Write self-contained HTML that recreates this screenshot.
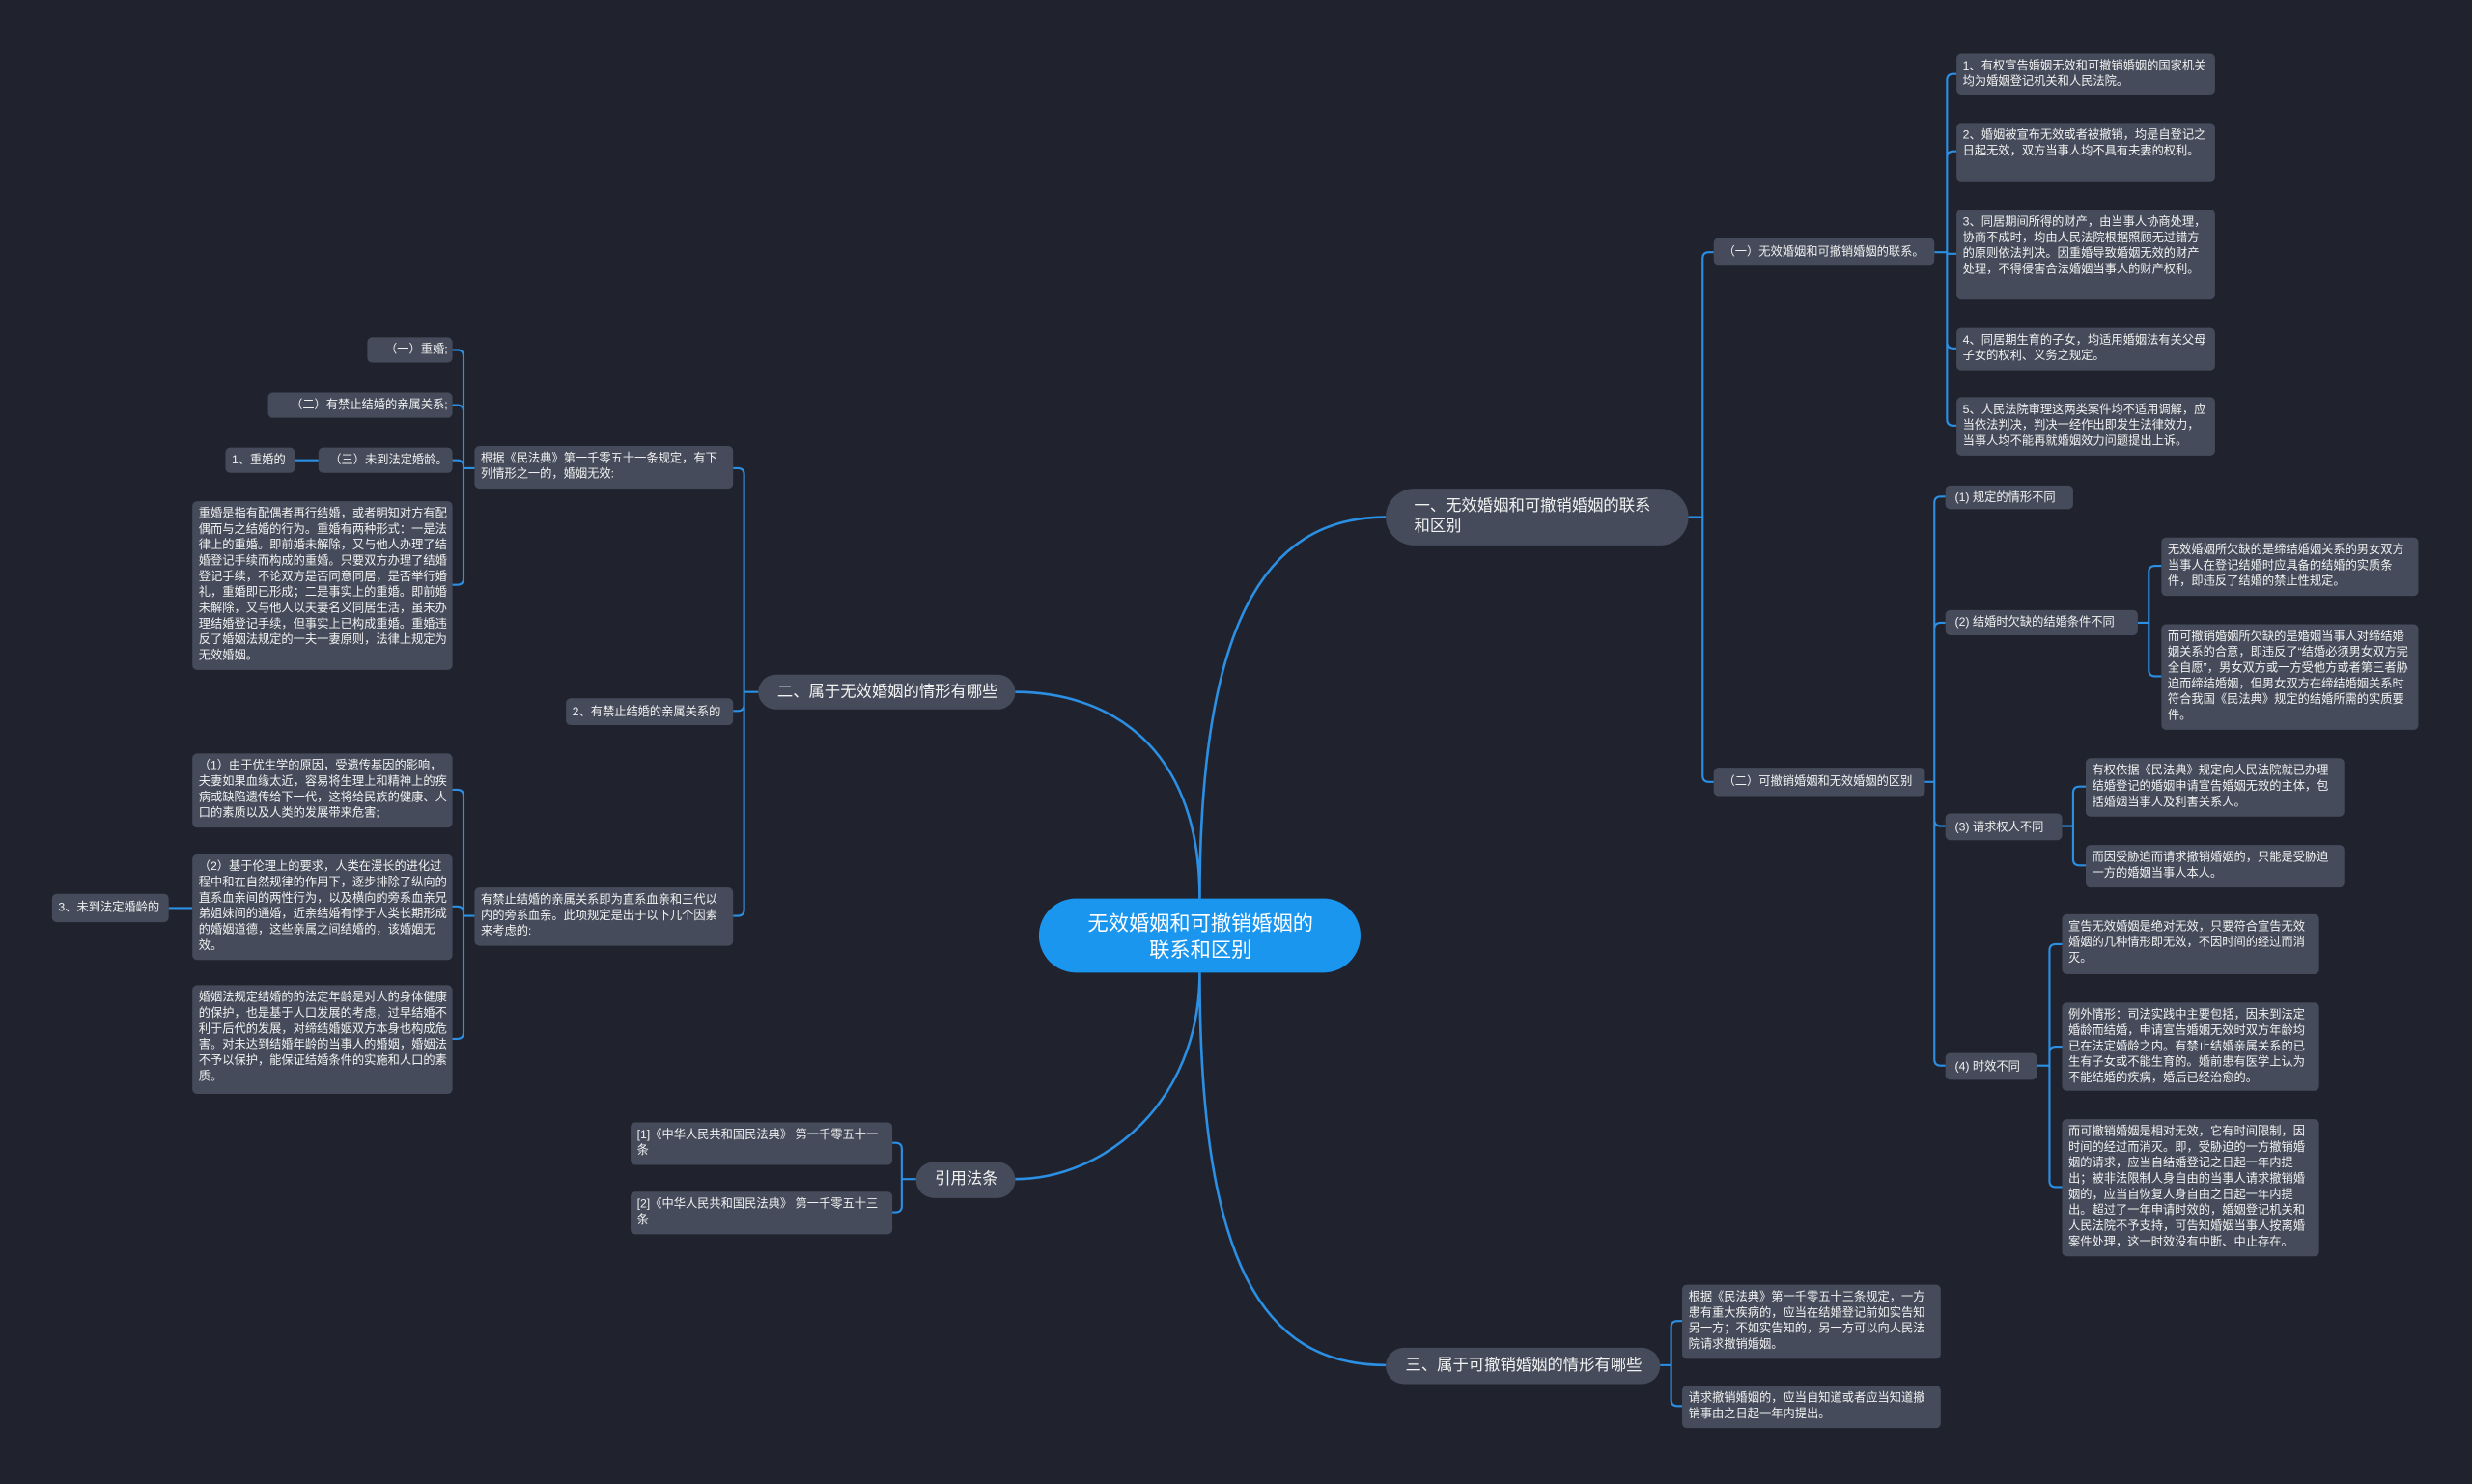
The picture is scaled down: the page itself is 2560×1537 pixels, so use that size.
<!DOCTYPE html>
<html><head><meta charset="utf-8">
<style>
html,body{margin:0;padding:0;background:#20232e;width:2560px;height:1537px;overflow:hidden}
#w{position:absolute;left:0;top:0;width:1568px;height:941px;transform:scale(1.63265);transform-origin:0 0;font-family:"Liberation Sans","Noto Sans CJK SC",sans-serif}
.n{position:absolute;background:#454b5a;color:#f0f0f0;border-radius:3px;font-size:7.5px;line-height:10px;padding:3px 3px 3px 4px;box-sizing:border-box;overflow:hidden;word-break:break-all}
.c{display:flex;align-items:center;white-space:nowrap}
.r{justify-content:flex-end}
.m{font-size:10px;line-height:13px;border-radius:12px;display:flex;align-items:center;justify-content:center;color:#f2f2f2;white-space:normal}
svg{position:absolute;left:0;top:0}
</style></head><body><div id="w">
<svg width="1568" height="941" id="s"></svg>

<div class="n" style="left:659px;top:570px;width:204px;height:47px;border-radius:24px;background:#1b96ef;font-size:13px;line-height:17px;display:flex;align-items:center;justify-content:center;text-align:center;color:#fff">无效婚姻和可撤销婚姻的<br>联系和区别</div>

<div class="n m" style="left:879px;top:310px;width:192px;height:36px;border-radius:18px;justify-content:flex-start;padding-left:18px">一、无效婚姻和可撤销婚姻的联系<br>和区别</div>
<div class="n m" style="left:481px;top:428px;width:163px;height:22px;white-space:nowrap">二、属于无效婚姻的情形有哪些</div>
<div class="n m" style="left:581px;top:737px;width:63px;height:23px">引用法条</div>
<div class="n m" style="left:879px;top:855px;width:174px;height:23px;white-space:nowrap">三、属于可撤销婚姻的情形有哪些</div>

<div class="n c" style="left:1087px;top:151px;width:140px;height:17px;padding-left:6px">（一）无效婚姻和可撤销婚姻的联系。</div>
<div class="n" style="left:1241px;top:34px;width:164px;height:26px">1、有权宣告婚姻无效和可撤销婚姻的国家机关均为婚姻登记机关和人民法院。</div>
<div class="n" style="left:1241px;top:78px;width:164px;height:37px">2、婚姻被宣布无效或者被撤销，均是自登记之日起无效，双方当事人均不具有夫妻的权利。</div>
<div class="n" style="left:1241px;top:133px;width:164px;height:57px">3、同居期间所得的财产，由当事人协商处理，协商不成时，均由人民法院根据照顾无过错方的原则依法判决。因重婚导致婚姻无效的财产处理，不得侵害合法婚姻当事人的财产权利。</div>
<div class="n" style="left:1241px;top:208px;width:164px;height:27px">4、同居期生育的子女，均适用婚姻法有关父母子女的权利、义务之规定。</div>
<div class="n" style="left:1241px;top:252px;width:164px;height:37px">5、人民法院审理这两类案件均不适用调解，应当依法判决，判决一经作出即发生法律效力，当事人均不能再就婚姻效力问题提出上诉。</div>

<div class="n c" style="left:1087px;top:487px;width:134px;height:18px;padding-left:6px">（二）可撤销婚姻和无效婚姻的区别</div>
<div class="n c" style="left:1234px;top:308px;width:81px;height:15px;padding-left:6px">(1) 规定的情形不同</div>
<div class="n c" style="left:1234px;top:387px;width:122px;height:16px;padding-left:6px">(2) 结婚时欠缺的结婚条件不同</div>
<div class="n" style="left:1371px;top:341px;width:163px;height:37px">无效婚姻所欠缺的是缔结婚姻关系的男女双方当事人在登记结婚时应具备的结婚的实质条件，即违反了结婚的禁止性规定。</div>
<div class="n" style="left:1371px;top:396px;width:163px;height:67px">而可撤销婚姻所欠缺的是婚姻当事人对缔结婚姻关系的合意，即违反了“结婚必须男女双方完全自愿”，男女双方或一方受他方或者第三者胁迫而缔结婚姻，但男女双方在缔结婚姻关系时符合我国《民法典》规定的结婚所需的实质要件。</div>
<div class="n c" style="left:1234px;top:516px;width:74px;height:17px;padding-left:6px">(3) 请求权人不同</div>
<div class="n" style="left:1323px;top:481px;width:164px;height:37px">有权依据《民法典》规定向人民法院就已办理结婚登记的婚姻申请宣告婚姻无效的主体，包括婚姻当事人及利害关系人。</div>
<div class="n" style="left:1323px;top:536px;width:164px;height:27px">而因受胁迫而请求撤销婚姻的，只能是受胁迫一方的婚姻当事人本人。</div>
<div class="n c" style="left:1234px;top:668px;width:58px;height:17px;padding-left:6px">(4) 时效不同</div>
<div class="n" style="left:1308px;top:580px;width:163px;height:38px">宣告无效婚姻是绝对无效，只要符合宣告无效婚姻的几种情形即无效，不因时间的经过而消灭。</div>
<div class="n" style="left:1308px;top:636px;width:163px;height:56px">例外情形：司法实践中主要包括，因未到法定婚龄而结婚，申请宣告婚姻无效时双方年龄均已在法定婚龄之内。有禁止结婚亲属关系的已生有子女或不能生育的。婚前患有医学上认为不能结婚的疾病，婚后已经治愈的。</div>
<div class="n" style="left:1308px;top:710px;width:163px;height:87px">而可撤销婚姻是相对无效，它有时间限制，因时间的经过而消灭。即，受胁迫的一方撤销婚姻的请求，应当自结婚登记之日起一年内提出；被非法限制人身自由的当事人请求撤销婚姻的，应当自恢复人身自由之日起一年内提出。超过了一年申请时效的，婚姻登记机关和人民法院不予支持，可告知婚姻当事人按离婚案件处理，这一时效没有中断、中止存在。</div>

<div class="n" style="left:1067px;top:815px;width:164px;height:47px">根据《民法典》第一千零五十三条规定，一方患有重大疾病的，应当在结婚登记前如实告知另一方；不如实告知的，另一方可以向人民法院请求撤销婚姻。</div>
<div class="n" style="left:1067px;top:879px;width:164px;height:27px">请求撤销婚姻的，应当自知道或者应当知道撤销事由之日起一年内提出。</div>

<div class="n" style="left:301px;top:283px;width:164px;height:27px">根据《民法典》第一千零五十一条规定，有下列情形之一的，婚姻无效:</div>
<div class="n c r" style="left:233px;top:214px;width:54px;height:16px">（一）重婚;</div>
<div class="n c r" style="left:170px;top:249px;width:117px;height:16px">（二）有禁止结婚的亲属关系;</div>
<div class="n c r" style="left:202px;top:284px;width:85px;height:16px">（三）未到法定婚龄。</div>
<div class="n c" style="left:143px;top:284px;width:44px;height:16px">1、重婚的</div>
<div class="n" style="left:122px;top:318px;width:165px;height:107px">重婚是指有配偶者再行结婚，或者明知对方有配偶而与之结婚的行为。重婚有两种形式：一是法律上的重婚。即前婚未解除，又与他人办理了结婚登记手续而构成的重婚。只要双方办理了结婚登记手续，不论双方是否同意同居，是否举行婚礼，重婚即已形成；二是事实上的重婚。即前婚未解除，又与他人以夫妻名义同居生活，虽未办理结婚登记手续，但事实上已构成重婚。重婚违反了婚姻法规定的一夫一妻原则，法律上规定为无效婚姻。</div>
<div class="n c" style="left:359px;top:443px;width:106px;height:17px">2、有禁止结婚的亲属关系的</div>
<div class="n" style="left:301px;top:563px;width:164px;height:37px">有禁止结婚的亲属关系即为直系血亲和三代以内的旁系血亲。此项规定是出于以下几个因素来考虑的:</div>
<div class="n" style="left:122px;top:478px;width:165px;height:47px">（1）由于优生学的原因，受遗传基因的影响，夫妻如果血缘太近，容易将生理上和精神上的疾病或缺陷遗传给下一代，这将给民族的健康、人口的素质以及人类的发展带来危害;</div>
<div class="n" style="left:122px;top:542px;width:165px;height:67px">（2）基于伦理上的要求，人类在漫长的进化过程中和在自然规律的作用下，逐步排除了纵向的直系血亲间的两性行为，以及横向的旁系血亲兄弟姐妹间的通婚，近亲结婚有悖于人类长期形成的婚姻道德，这些亲属之间结婚的，该婚姻无效。</div>
<div class="n" style="left:122px;top:625px;width:165px;height:69px">婚姻法规定结婚的的法定年龄是对人的身体健康的保护，也是基于人口发展的考虑，过早结婚不利于后代的发展，对缔结婚姻双方本身也构成危害。对未达到结婚年龄的当事人的婚姻，婚姻法不予以保护，能保证结婚条件的实施和人口的素质。</div>
<div class="n c" style="left:33px;top:567px;width:74px;height:18px">3、未到法定婚龄的</div>

<div class="n" style="left:400px;top:712px;width:166px;height:27px">[1]《中华人民共和国民法典》 第一千零五十一条</div>
<div class="n" style="left:400px;top:756px;width:166px;height:27px">[2]《中华人民共和国民法典》 第一千零五十三条</div>
</div>
<script>
var d='';
function br(px,py,jx,ch,cx){var r=4;d+='M'+px+','+py+'H'+jx+' ';ch.forEach(function(cy){var s=cy>py?1:-1;if(Math.abs(cy-py)<r+1){d+='M'+jx+','+py+'V'+cy+'H'+cx+' ';}else{var k=cx>jx?1:-1;d+='M'+jx+','+py+'V'+(cy-s*r)+'Q'+jx+','+cy+' '+(jx+k*r)+','+cy+'H'+cx+' ';}});}
br(1227,160,1235,[47,96,161,221,270],1241);
br(1221,496,1227,[315,395,524,676],1234);
br(1356,395,1363,[359,429],1371);
br(1308,524,1315,[499,549],1323);
br(1292,676,1300,[599,664,753],1308);
br(1071,328,1080,[160,496],1087);
br(1053,866,1060,[838,892],1067);
br(301,297,294,[222,257,292,371],287);
br(481,439,472,[297,451,581],465);
br(301,581,294,[501,575,659],287);
br(581,748,572,[725,769],566);
d+='M202,292H187 M122,576H107 ';
var c='M761,570C761,400 800,328 879,328 M761,570C761,470 700,439 644,439 M761,617C761,700 700,748 644,748 M761,617C761,800 800,866 879,866';
document.getElementById('s').innerHTML='<path d="'+d+'" fill="none" stroke="#2b8fe3" stroke-width="1.3"/><path d="'+c+'" fill="none" stroke="#2b8fe3" stroke-width="1.6"/>';
</script>
</body></html>
